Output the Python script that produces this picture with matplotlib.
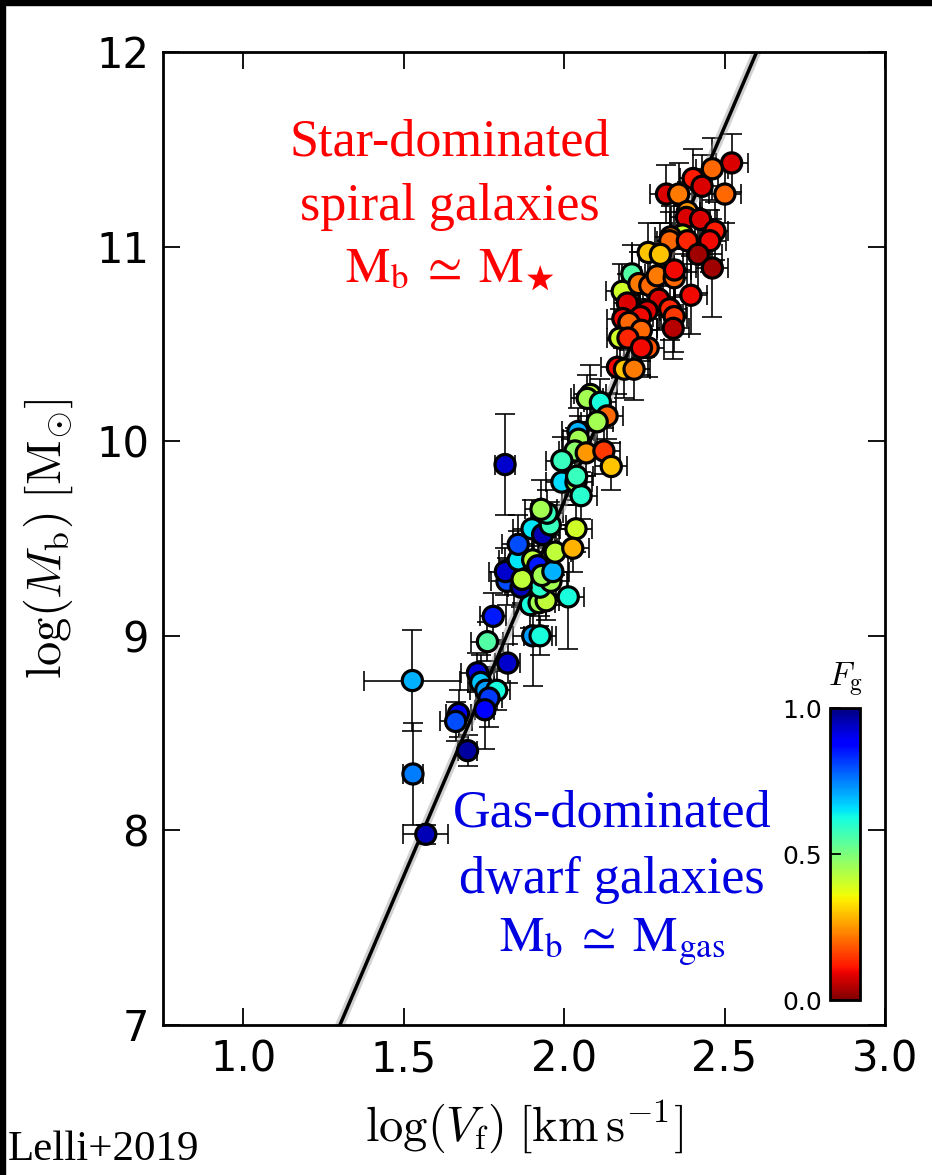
import numpy as np
import matplotlib
matplotlib.use("Agg")
import matplotlib.pyplot as plt
from matplotlib.patches import Rectangle


# baryonic Tully-Fisher data (log Vf, log Mb, gas fraction, errors)
log_vf = [1.527, 1.529, 1.569, 1.671, 1.662, 1.699, 1.730, 1.740, 1.756, 1.790,
          1.766, 1.753, 1.824, 1.761, 1.779, 1.902, 1.925, 1.895, 1.922, 1.944,
          1.925, 1.959, 2.013, 1.822, 1.817, 1.866, 1.869, 1.857, 1.857, 1.902,
          1.918, 1.931, 1.965, 1.972, 1.900, 1.933, 1.957, 1.947, 1.928, 2.037,
          2.027, 1.993, 2.037, 2.053, 1.816, 2.082, 2.072, 2.113, 2.134, 2.103,
          2.043, 2.045, 2.034, 2.069, 2.124, 2.147, 1.993, 2.039,
          2.211, 2.181, 2.233, 2.267, 2.290, 2.343, 2.344, 2.395, 2.197, 2.295,
          2.259, 2.238, 2.329, 2.343, 2.340, 2.183, 2.202, 2.241, 2.173, 2.199,
          2.262, 2.241, 2.166, 2.188, 2.218, 2.522, 2.462, 2.402, 2.430, 2.319,
          2.357, 2.501, 2.384, 2.381, 2.425, 2.470, 2.454, 2.369, 2.332, 2.329,
          2.384, 2.262, 2.300, 2.418, 2.462]
log_mb = [8.77, 8.29, 7.98, 8.60, 8.56, 8.41, 8.81, 8.76, 8.72, 8.72,
          8.68, 8.62, 8.86, 8.97, 9.10, 9.00, 9.00, 9.16, 9.17, 9.18,
          9.25, 9.28, 9.20, 9.28, 9.33, 9.25, 9.29, 9.39, 9.47, 9.39,
          9.36, 9.31, 9.33, 9.43, 9.55, 9.52, 9.57, 9.63, 9.65, 9.55,
          9.45, 9.79, 9.79, 9.72, 9.88, 10.24, 10.22, 10.20, 10.13, 10.10,
          10.05, 10.01, 9.95, 9.94, 9.95, 9.87, 9.90, 9.82,
          10.86, 10.77, 10.81, 10.80, 10.85, 10.84, 10.88, 10.75, 10.71, 10.73,
          10.67, 10.64, 10.68, 10.64, 10.58, 10.63, 10.61, 10.57, 10.53, 10.53,
          10.48, 10.48, 10.38, 10.37, 10.37, 11.43, 11.40, 11.35, 11.31, 11.27,
          11.27, 11.27, 11.18, 11.15, 11.14, 11.08, 11.03, 11.06, 11.05, 11.03,
          11.03, 10.97, 10.96, 10.96, 10.89]
f_gas = [0.70, 0.75, 0.95, 0.90, 0.80, 0.97, 0.92, 0.68, 0.72, 0.62,
         0.82, 0.88, 0.93, 0.55, 0.85, 0.72, 0.62, 0.62, 0.45, 0.42,
         0.60, 0.45, 0.62, 0.80, 0.93, 0.95, 0.42, 0.65, 0.80, 0.42,
         0.85, 0.45, 0.70, 0.42, 0.65, 0.95, 0.58, 0.58, 0.45, 0.40,
         0.28, 0.66, 0.45, 0.60, 0.93, 0.42, 0.45, 0.62, 0.20, 0.45,
         0.70, 0.45, 0.48, 0.25, 0.15, 0.30, 0.58, 0.58,
         0.55, 0.40, 0.22, 0.20, 0.22, 0.20, 0.10, 0.10, 0.08, 0.08,
         0.08, 0.10, 0.13, 0.15, 0.05, 0.10, 0.20, 0.20, 0.40, 0.13,
         0.18, 0.10, 0.10, 0.30, 0.22, 0.08, 0.20, 0.12, 0.08, 0.08,
         0.22, 0.20, 0.25, 0.08, 0.08, 0.12, 0.10, 0.40, 0.22, 0.20,
         0.13, 0.30, 0.30, 0.03, 0.03]
err_vf = [0.15, 0.03, 0.07, 0.04, 0.05, 0.03, 0.05, 0.04, 0.05, 0.04,
          0.04, 0.03, 0.04, 0.05, 0.04, 0.06, 0.05, 0.05, 0.05, 0.04,
          0.05, 0.05, 0.05, 0.05, 0.05, 0.04, 0.05, 0.06, 0.05, 0.05,
          0.04, 0.05, 0.05, 0.05, 0.06, 0.05, 0.05, 0.05, 0.05, 0.05,
          0.05, 0.05, 0.05, 0.05, 0.03, 0.05, 0.05, 0.05, 0.05, 0.05,
          0.05, 0.05, 0.05, 0.05, 0.05, 0.05, 0.05, 0.05,
          0.04, 0.05, 0.04, 0.04, 0.05, 0.04, 0.05, 0.05, 0.04, 0.05,
          0.04, 0.04, 0.05, 0.04, 0.05, 0.05, 0.04, 0.05, 0.04, 0.04,
          0.05, 0.04, 0.05, 0.04, 0.05, 0.05, 0.05, 0.04, 0.05, 0.05,
          0.04, 0.05, 0.04, 0.05, 0.05, 0.04, 0.05, 0.04, 0.05, 0.04,
          0.05, 0.05, 0.04, 0.075, 0.05]
err_mb = [0.26, 0.26, 0.05, 0.12, 0.10, 0.08, 0.10, 0.14, 0.12, 0.10,
          0.15, 0.20, 0.10, 0.10, 0.12, 0.26, 0.10, 0.12, 0.12, 0.10,
          0.12, 0.12, 0.27, 0.12, 0.12, 0.10, 0.12, 0.15, 0.15, 0.12,
          0.10, 0.12, 0.12, 0.12, 0.15, 0.12, 0.12, 0.12, 0.15, 0.12,
          0.12, 0.12, 0.12, 0.12, 0.26, 0.15, 0.12, 0.12, 0.12, 0.12,
          0.12, 0.12, 0.12, 0.12, 0.12, 0.12, 0.12, 0.12,
          0.15, 0.14, 0.16, 0.15, 0.16, 0.15, 0.18, 0.20, 0.15, 0.16,
          0.15, 0.14, 0.16, 0.18, 0.16, 0.15, 0.14, 0.16, 0.15, 0.14,
          0.15, 0.14, 0.14, 0.15, 0.16, 0.15, 0.16, 0.15, 0.16, 0.15,
          0.16, 0.15, 0.15, 0.16, 0.15, 0.15, 0.16, 0.15, 0.16, 0.15,
          0.16, 0.15, 0.16, 0.20, 0.25]

# fitted relation: log Mb = slope * log Vf + zero point
fit_slope = 3.85
fit_zero = 1.99

x_ticks = [1.0, 1.5, 2.0, 2.5, 3.0]
y_ticks = [7, 8, 9, 10, 11, 12]
cbar_ticks = [0.0, 0.5, 1.0]

plt.rcParams["mathtext.fontset"] = "cm"

W, H = 932, 1175
fig = plt.figure(figsize=(W / 100, H / 100), dpi=100)
fig.patch.set_facecolor("white")

# thin black border at the top and left of the original screenshot
fig.patches.append(Rectangle((0, 1 - 5 / H), 1, 5 / H, transform=fig.transFigure,
                             color="k", zorder=10))
fig.patches.append(Rectangle((0, 0), 5 / W, 1, transform=fig.transFigure,
                             color="k", zorder=10))

ax = fig.add_axes([163 / W, (H - 1025) / H, 722 / W, 973 / H])

ax.errorbar(log_vf, log_mb, xerr=err_vf, yerr=err_mb, fmt="none", ecolor="k",
            elinewidth=1.3, capsize=7, capthick=1.3, alpha=0.9, zorder=2)

xx = np.linspace(0.75, 3.0, 200)
yy = fit_slope * xx + fit_zero
ax.fill_between(xx, yy - 0.06, yy + 0.06, color="0.6", alpha=0.45, lw=0, zorder=2.4)
ax.plot(xx, yy, color="k", lw=2.5, zorder=2.5)

sc = ax.scatter(log_vf, log_mb, c=f_gas, cmap="jet_r", vmin=0, vmax=1, s=210,
                edgecolors="k", linewidths=2.3, zorder=3)

ax.set_xlim(0.75, 3.0)
ax.set_ylim(7, 12)
ax.set_xticks(x_ticks)
ax.set_xticklabels([f"{t:.1f}" for t in x_ticks])
ax.set_yticks(y_ticks)
ax.set_yticklabels([str(t) for t in y_ticks])
ax.tick_params(direction="in", top=True, right=True, length=12, width=1.3,
               labelsize=30, pad=10)
for sp in ax.spines.values():
    sp.set_linewidth(2)

ax.set_xlabel(r"$\log(V_{\rm f})\;[\rm km\,s^{-1}]$", fontsize=35, labelpad=12)
ax.set_ylabel(r"$\log(M_{\rm b})\;[\rm M_{\odot}]$", fontsize=35, labelpad=15)

# annotations
serif = ["Liberation Serif", "DejaVu Serif"]
red_x = (450 - 163) / 722
blue_x = (612 - 163) / 722
ax.text(red_x, 0.894, "Star-dominated", color="red", fontsize=37.5, family=serif,
        ha="center", va="baseline", transform=ax.transAxes)
ax.text(red_x, 0.827, "spiral galaxies", color="red", fontsize=37.5, family=serif,
        ha="center", va="baseline", transform=ax.transAxes)
ax.text(red_x, 0.764, r"$\mathrm{M_b}\;\simeq\;\mathrm{M}_{\bigstar}$", color="red",
        fontsize=36, math_fontfamily="stix", ha="center", va="baseline",
        transform=ax.transAxes)
ax.text(blue_x, 0.2045, "Gas-dominated", color="#0000e0", fontsize=37.5, family=serif,
        ha="center", va="baseline", transform=ax.transAxes)
ax.text(blue_x, 0.1357, "dwarf galaxies", color="#0000e0", fontsize=37.5, family=serif,
        ha="center", va="baseline", transform=ax.transAxes)
ax.text(blue_x, 0.075, r"$\mathrm{M_b}\;\simeq\;\mathrm{M_{gas}}$", color="#0000e0",
        fontsize=36, math_fontfamily="stix", ha="center", va="baseline",
        transform=ax.transAxes)

fig.text(8 / W, (H - 1160) / H, "Lelli+2019", fontsize=31, family=serif,
         ha="left", va="baseline")

# colour bar inset
cax = fig.add_axes([830 / W, (H - 1000) / H, 30 / W, 292 / H])
cb = fig.colorbar(sc, cax=cax, ticks=cbar_ticks)
cb.outline.set_linewidth(2)
cax.yaxis.set_ticks_position("left")
cax.yaxis.set_label_position("left")
cax.set_yticklabels([f"{t:.1f}" for t in cbar_ticks])
cax.tick_params(direction="in", length=8, width=1.3, labelsize=18, pad=6)
cax.text(0.5, 1.03, r"$F_{\rm g}$", fontsize=24, ha="center", va="bottom",
         transform=cax.transAxes)

fig.savefig("out.png", dpi=100)
